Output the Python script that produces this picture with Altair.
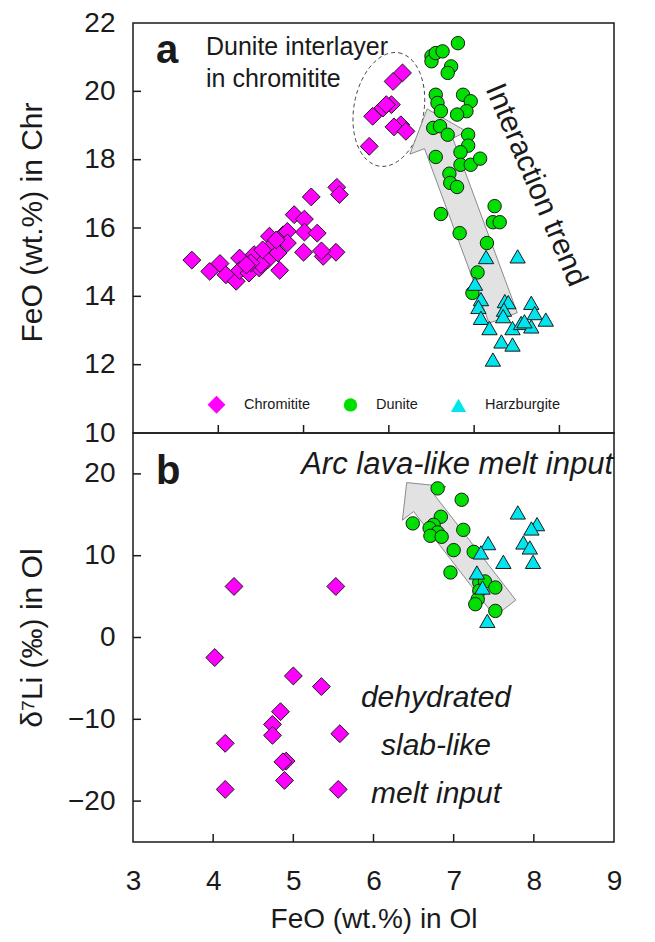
import altair as alt
import pandas as pd
import numpy as np

# ---------------- data ----------------
types = ["Chromitite", "Dunite", "Harzburgite"]
colors = ["#FF00FF", "#00E000", "#00E5EE"]
shapes = ["diamond", "circle", "triangle-up"]
sizes = [320, 180, 235]

# panel a : FeO in Ol (x) vs FeO in Chr (y)
chr_a_x = [3.69, 3.90, 4.02, 4.09, 4.21, 4.25, 4.25, 4.36, 4.42, 4.48, 4.58, 4.60, 4.64, 4.70,
           4.72, 4.76, 4.81, 4.81, 4.89, 5.01, 5.01, 5.16, 5.00, 5.23, 5.38, 5.09, 5.39, 5.42,
           4.50, 4.38, 5.21, 4.52, 4.68, 4.33,
           6.16, 6.05, 6.03, 5.93, 5.81, 6.14, 6.06, 6.20, 5.77, 5.97]
chr_a_y = [15.06, 14.73, 14.96, 14.63, 14.44, 15.12, 14.76, 14.68, 15.22, 14.83, 15.07, 15.76, 15.51, 15.27,
           14.76, 15.80, 15.90, 15.56, 16.39, 16.26, 15.88, 15.85, 15.29, 15.17, 15.29, 16.91, 17.19, 16.98,
           14.93, 14.98, 15.33, 15.36, 15.65, 14.92,
           20.54, 20.29, 19.61, 19.51, 19.27, 19.02, 18.96, 18.83, 18.39, 19.61]
dun_a_x = [6.81, 6.50, 6.50, 6.55, 6.63, 6.73, 6.69, 6.55, 6.57, 6.61, 6.87, 6.96, 6.91, 6.80,
           6.52, 6.60, 6.69, 6.93, 6.93, 6.55, 6.84, 6.84, 6.96, 7.07, 6.71, 6.72, 6.80, 7.24,
           7.22, 7.30, 6.61, 6.83, 7.15, 7.04, 6.98]
dun_a_y = [21.41, 21.03, 20.88, 21.12, 21.17, 20.73, 20.54, 19.90, 19.66, 19.42, 19.90, 19.71, 19.42, 19.32,
           18.93, 18.98, 18.73, 18.73, 18.41, 18.08, 18.22, 17.85, 17.85, 18.03, 17.59, 17.32, 17.20, 16.64,
           16.17, 16.17, 16.41, 15.85, 15.56, 14.70, 14.10]
harz_a_x = [7.14, 7.51, 7.01, 7.08, 7.05, 7.08, 7.18, 7.32, 7.45, 7.22, 7.36, 7.40, 7.35, 7.34,
            7.45, 7.55, 7.67, 7.71, 7.67, 7.84, 7.59]
harz_a_y = [15.15, 15.17, 14.37, 13.92, 13.69, 13.37, 13.07, 12.68, 12.59, 12.15, 13.86, 13.83, 13.61, 13.42,
            13.07, 13.22, 13.81, 13.51, 13.12, 13.32, 13.27]

# panel b : FeO in Ol (x) vs d7Li in Ol (y)
chr_b_x = [4.26, 5.53, 4.02, 5.00, 5.35, 4.84, 4.74, 4.74, 4.15, 5.58, 4.91, 4.87, 4.89, 4.15, 5.56]
chr_b_y = [6.24, 6.24, -2.45, -4.70, -6.00, -9.07, -10.62, -11.96, -12.94, -11.76, -15.11, -15.20,
           -17.47, -18.57, -18.57]
dun_b_x = [6.80, 7.10, 6.49, 6.84, 6.75, 6.70, 6.80, 6.71, 6.85, 7.12, 7.00, 7.25, 6.96, 7.32,
           7.39, 7.52, 7.32, 7.30, 7.27, 7.52]
dun_b_y = [18.23, 16.84, 13.95, 14.76, 13.78, 13.37, 12.85, 12.43, 12.31, 13.16, 10.68, 10.47, 7.95, 6.73,
           6.85, 6.11, 5.70, 4.68, 4.07, 3.25]
harz_b_x = [7.80, 8.04, 7.97, 7.87, 7.95, 7.99, 7.62, 7.43, 7.34, 7.29, 7.36, 7.42]
harz_b_y = [15.29, 13.86, 13.33, 11.62, 11.01, 9.25, 9.25, 11.54, 10.40, 7.95, 6.11, 2.03]

# axis ticks / labels
xa_domain = [3, 8.64]
xb_domain = [3, 9]
ya_domain = [10, 22]
yb_domain = [-25, 25]
x_ticks = [4, 5, 6, 7, 8]
x_labels = [3, 4, 5, 6, 7, 8, 9]
ya_labels = [10, 12, 14, 16, 18, 20, 22]
ya_ticks = [12, 14, 16, 18, 20]
yb_labels = [-20, -10, 0, 10, 20]

# annotation shapes (data units)
arrow_a_x = [6.449, 6.912, 6.749, 7.506, 7.175, 6.418, 6.247]
arrow_a_y = [19.483, 18.825, 18.626, 13.519, 13.215, 18.321, 18.163]
arrow_b_x = [6.414, 6.903, 6.763, 7.775, 7.513, 6.501, 6.361]
arrow_b_y = [18.94, 18.45, 17.39, 4.57, 2.59, 15.40, 14.34]

W = 481
HA = 410
HB = 409
FONT = "Liberation Sans, Arial, Helvetica, sans-serif"
INK = "#1a1a1a"


def pts(xs, ys, t):
    return pd.DataFrame({"x": xs, "y": ys, "type": [t] * len(xs)})


df_a = pd.concat([pts(chr_a_x, chr_a_y, types[0]), pts(dun_a_x, dun_a_y, types[1]),
                  pts(harz_a_x, harz_a_y, types[2])], ignore_index=True)
df_b = pd.concat([pts(chr_b_x, chr_b_y, types[0]), pts(dun_b_x, dun_b_y, types[1]),
                  pts(harz_b_x, harz_b_y, types[2])], ignore_index=True)

# dashed ellipse around the dunite-interlayer chromitites
ppx = W / (xa_domain[1] - xa_domain[0])
ppy = HA / (ya_domain[1] - ya_domain[0])
t = np.linspace(0, 2 * np.pi, 90)
tilt = np.deg2rad(10)
ea, eb = 57.5, 35.0
dx = ea * np.cos(t) * np.sin(tilt) + eb * np.sin(t) * np.cos(tilt)
dy = -ea * np.cos(t) * np.cos(tilt) + eb * np.sin(t) * np.sin(tilt)
ell = pd.DataFrame({"x": 6.00 + dx / ppx, "y": 19.47 - dy / ppy, "i": np.arange(len(t))})

arrow_a = pd.DataFrame({"x": arrow_a_x, "y": arrow_a_y, "i": range(len(arrow_a_x))})
arrow_b = pd.DataFrame({"x": arrow_b_x, "y": arrow_b_y, "i": range(len(arrow_b_x))})

one = pd.DataFrame({"k": [0]})

# ---------------- encodings ----------------
xa = alt.X("x:Q", scale=alt.Scale(domain=xa_domain, nice=False, zero=False), axis=None)
ya = alt.Y("y:Q", scale=alt.Scale(domain=ya_domain, nice=False, zero=False),
           axis=alt.Axis(values=ya_labels, ticks=False, domain=False, grid=False,
                         labelFontSize=28, labelPadding=18, labelFont=FONT, labelColor=INK,
                         title="FeO (wt.%) in Chr", titleFont=FONT, titleFontSize=30,
                         titleFontWeight="normal", titleColor=INK,
                         titleX=-101, titleY=HA / 2 - 6, titleAlign="center", titleBaseline="middle"))
xb = alt.X("x:Q", scale=alt.Scale(domain=xb_domain, nice=False, zero=False),
           axis=alt.Axis(values=x_labels, ticks=False, domain=False, grid=False,
                         labelFontSize=28, labelPadding=25, labelFont=FONT, labelColor=INK,
                         labelFlush=False,
                         title="FeO (wt.%) in Ol", titleFont=FONT, titleFontSize=28,
                         titleFontWeight="normal", titleColor=INK, titlePadding=10))
yb = alt.Y("y:Q", scale=alt.Scale(domain=yb_domain, nice=False, zero=False),
           axis=alt.Axis(values=yb_labels, ticks=False, domain=False, grid=False,
                         labelFontSize=28, labelPadding=18, labelFont=FONT, labelColor=INK,
                         title="δ⁷Li (‰) in Ol", titleFont=FONT, titleFontSize=30,
                         titleFontWeight="normal", titleColor=INK,
                         titleX=-101, titleY=HB / 2, titleAlign="center", titleBaseline="middle"))

leg = alt.Legend(title=None, orient="none", legendX=74, legendY=372, direction="horizontal",
                 labelFontSize=14.5, labelFont=FONT, labelColor=INK, labelOffset=18,
                 columnPadding=30, symbolStrokeColor=INK, symbolStrokeWidth=1, padding=0,
                 symbolOpacity=1)


def point_layer(df, x, y, legend):
    return alt.Chart(df).mark_point(filled=True, opacity=1, stroke=INK, strokeWidth=1).encode(
        x=x, y=y,
        color=alt.Color("type:N", scale=alt.Scale(domain=types, range=colors), legend=legend),
        shape=alt.Shape("type:N", scale=alt.Scale(domain=types, range=shapes), legend=legend),
        size=alt.Size("type:N", scale=alt.Scale(type="ordinal", domain=types, range=sizes),
                      legend=legend),
    )


def arrow_layer(df, x, y):
    return alt.Chart(df).mark_line(interpolate="linear-closed", fill="#E2E2E2", stroke="#8a8a8a",
                                   strokeWidth=1).encode(x=x, y=y, order="i:Q")


def y_ticks(vals, x, y):
    d = pd.DataFrame({"y": vals})
    return alt.Chart(d).mark_rule(color=INK, strokeWidth=1.5).encode(
        y=y, x=alt.value(0), x2=alt.value(8))


def x_ticks_layer(vals, x, h):
    d = pd.DataFrame({"x": vals})
    return alt.Chart(d).mark_rule(color=INK, strokeWidth=1.5).encode(
        x=x, y=alt.value(h), y2=alt.value(h - 8))


def label(text, px, py, **kw):
    return alt.Chart(one).mark_text(text=text, font=FONT, color=INK, **kw).encode(
        x=alt.value(px), y=alt.value(py))


ellipse = alt.Chart(ell).mark_line(color="#444", strokeWidth=1, strokeDash=[4, 3]).encode(
    x=xa, y=ya, order="i:Q")

panel_a = alt.layer(
    ellipse,
    arrow_layer(arrow_a, xa, ya),
    point_layer(df_a, xa, ya, leg),
    y_ticks(ya_ticks, xa, ya),
    x_ticks_layer(x_ticks, xa, HA),
    label("a", 23, 40, fontSize=40, fontWeight="bold", align="left", baseline="alphabetic"),
    label(["Dunite interlayer", "in chromitite"], 73, 32, fontSize=25, align="left",
          baseline="alphabetic", lineHeight=32),
    label("Interaction trend", 403, 162, fontSize=30, angle=67, align="center", baseline="middle"),
).properties(width=W, height=HA)

panel_b = alt.layer(
    arrow_layer(arrow_b, xb, yb),
    point_layer(df_b, xb, yb, None),
    y_ticks([-20, -10, 0, 10, 20], xb, yb),
    x_ticks_layer(x_ticks, xb, HB),
    label("b", 23, 51, fontSize=40, fontWeight="bold", align="left", baseline="alphabetic"),
    label("Arc lava-like melt input", 480, 41, fontSize=31, fontStyle="italic", align="right",
          baseline="alphabetic"),
    label(["dehydrated", "slab-like", "melt input"], 303, 274, fontSize=30, fontStyle="italic",
          align="center", baseline="alphabetic", lineHeight=48),
).properties(width=W, height=HB)

chart = alt.vconcat(panel_a, panel_b, spacing=0, bounds="flush").resolve_scale(
    x="independent", y="independent", color="independent", shape="independent", size="independent"
).properties(
    padding={"left": 8, "top": 0, "right": 5, "bottom": 5}
).configure_view(stroke=INK, strokeWidth=1.5)

chart.save("out.html", embed_options={"renderer": "svg", "actions": False})
